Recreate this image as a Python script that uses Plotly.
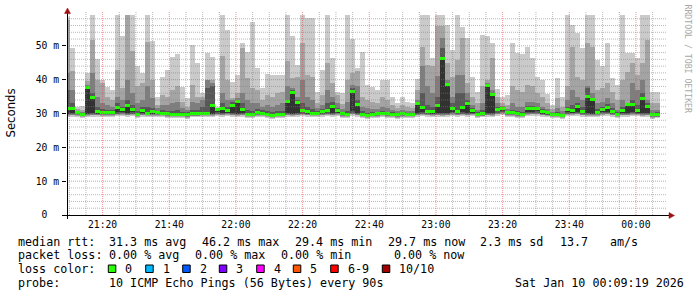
import plotly.graph_objects as go
import pandas as pd

# ---------------- data (milliseconds), one value per 90 s step ----------------
start_time = "2026-01-09 21:08:43"   # start of first (partly hidden) step
step_seconds = 90
x_start = "2026-01-09 21:09:19"
x_end = "2026-01-10 00:09:19"

median_ms = [31.5, 31.5, 30.3, 29.8, 37.8, 34.6, 30.5, 30.4, 30.4, 30.3,
             31.8, 31.1, 32.5, 31.1, 29.8, 30.8, 30.1, 30.5, 30.3, 30.1,
             29.9, 29.8, 29.8, 29.8, 29.6, 30.0, 30.0, 30.1, 30.1, 32.3,
             31.1, 31.5, 30.8, 32.5, 33.5, 31.3, 29.8, 29.8, 30.3, 30.1,
             29.8, 29.4, 29.8, 29.8, 33.5, 36.2, 33.2, 30.9, 30.5, 30.1,
             30.1, 30.6, 30.9, 32.2, 30.9, 29.9, 29.8, 36.5, 32.8, 29.8,
             29.4, 29.8, 29.9, 30.1, 29.9, 29.8, 29.6, 29.9, 29.8, 29.8,
             33.0, 31.7, 30.6, 30.5, 32.4, 46.2, 38.5, 31.5, 30.6, 31.7,
             33.0, 30.8, 29.8, 30.0, 38.2, 35.5, 31.3, 31.4, 30.3, 30.3,
             29.9, 29.8, 31.4, 31.5, 31.4, 30.5, 30.2, 29.8, 29.8, 29.4,
             31.1, 30.9, 32.0, 30.6, 35.0, 34.0, 30.3, 31.1, 31.7, 30.6,
             29.8, 30.8, 32.7, 32.7, 30.8, 34.3, 32.2, 29.6, 29.7]

ping10_ms = [58.5, 49.5, 32.0, 32.2, 41.9, 59.2, 46.0, 39.9, 37.8, 37.0,
             59.2, 52.9, 59.2, 59.2, 43.9, 42.1, 59.2, 51.3, 34.8, 40.7,
             42.9, 46.6, 47.6, 37.8, 34.5, 50.3, 44.9, 36.0, 48.0, 46.8,
             32.0, 59.2, 54.7, 39.4, 41.4, 50.8, 48.3, 56.9, 43.4, 37.5,
             41.7, 41.4, 41.4, 41.4, 59.2, 52.9, 44.4, 59.2, 58.2, 58.2,
             36.5, 42.9, 59.2, 46.3, 36.5, 36.0, 59.2, 52.0, 43.4, 48.3,
             38.5, 37.8, 37.0, 39.9, 39.9, 35.0, 33.0, 35.0, 33.5, 33.0,
             40.1, 59.2, 59.2, 46.3, 59.2, 59.2, 56.2, 48.8, 59.2, 55.7,
             52.3, 40.9, 36.4, 53.2, 52.9, 50.8, 37.2, 34.9, 35.5, 50.8,
             47.8, 47.5, 49.8, 46.3, 40.7, 39.9, 35.8, 32.5, 40.4, 35.0,
             59.2, 56.2, 53.9, 49.3, 59.2, 59.2, 45.8, 43.9, 50.8, 40.4,
             38.5, 59.2, 47.8, 47.8, 46.3, 59.2, 59.2, 36.5, 36.5]

ping9_ms = [57.5, 42.6, 31.2, 31.0, 39.5, 51.6, 39.9, 38.9, 35.0, 34.0,
            42.9, 37.5, 59.2, 48.6, 38.0, 38.9, 51.0, 40.0, 32.5, 35.5,
            35.0, 37.0, 38.0, 33.5, 32.0, 38.5, 35.0, 35.0, 40.0, 40.0,
            31.6, 47.0, 39.9, 34.5, 36.0, 49.3, 40.4, 37.5, 37.0, 34.0,
            35.5, 35.0, 36.0, 36.5, 45.4, 40.4, 40.9, 50.8, 41.4, 40.9,
            33.0, 35.5, 44.9, 38.9, 35.5, 32.8, 39.9, 42.0, 42.5, 35.0,
            34.0, 33.5, 33.0, 35.0, 34.0, 32.5, 31.5, 32.5, 31.8, 31.5,
            37.0, 49.8, 44.4, 43.9, 56.0, 55.8, 44.9, 40.9, 45.8, 52.3,
            38.9, 35.0, 33.0, 38.0, 39.9, 46.3, 35.0, 33.0, 32.5, 38.0,
            37.0, 36.5, 38.5, 38.0, 36.0, 35.0, 33.0, 31.2, 34.5, 32.0,
            38.0, 49.8, 40.9, 39.9, 50.8, 49.8, 37.0, 37.5, 38.9, 36.5,
            34.0, 39.9, 42.4, 44.9, 41.4, 44.9, 51.8, 33.0, 33.0]

ping8_ms = [42.0, 37.0, 30.8, 30.4, 38.5, 42.0, 35.0, 33.0, 32.5, 32.0,
            35.0, 34.0, 40.0, 36.0, 33.0, 34.0, 38.0, 34.5, 31.5, 32.5,
            32.5, 33.0, 33.5, 31.5, 31.0, 33.5, 33.0, 34.0, 39.9, 39.0,
            31.4, 36.0, 34.0, 34.0, 34.5, 36.0, 34.0, 33.0, 33.0, 32.0,
            32.5, 32.0, 32.5, 33.0, 38.0, 37.5, 35.0, 40.0, 35.0, 34.0,
            31.5, 32.5, 37.0, 35.0, 33.0, 31.2, 33.5, 38.5, 38.0, 32.0,
            31.5, 31.2, 31.3, 32.0, 31.5, 31.0, 30.6, 31.0, 30.7, 30.6,
            34.0, 43.9, 38.0, 36.0, 41.0, 52.3, 40.0, 35.0, 41.4, 41.4,
            36.0, 32.5, 31.0, 33.0, 39.0, 37.0, 33.0, 32.2, 31.3, 33.0,
            32.0, 32.0, 33.5, 33.5, 33.0, 32.0, 31.3, 30.5, 31.5, 30.6,
            34.0, 37.0, 35.0, 34.0, 38.0, 36.0, 33.0, 33.5, 34.5, 33.0,
            31.0, 34.0, 33.0, 38.9, 37.0, 39.9, 34.0, 31.0, 31.0]

ping7_ms = [37.0, 33.0, 30.5, 30.1, 38.2, 36.0, 32.0, 31.2, 31.0, 30.9,
            33.0, 32.0, 34.0, 32.5, 30.8, 31.8, 32.0, 31.5, 30.8, 30.9,
            30.7, 30.8, 30.9, 30.5, 30.3, 31.0, 31.0, 32.0, 37.5, 38.0,
            31.2, 33.0, 32.0, 33.5, 34.0, 33.0, 31.0, 30.8, 31.2, 30.9,
            30.6, 30.3, 30.6, 30.7, 34.0, 36.8, 34.0, 33.0, 32.0, 31.2,
            30.7, 31.3, 33.0, 33.5, 31.5, 30.4, 30.8, 37.5, 34.0, 30.6,
            30.2, 30.4, 30.5, 30.8, 30.5, 30.4, 30.1, 30.4, 30.2, 30.2,
            33.5, 36.0, 32.5, 32.0, 35.0, 49.3, 38.8, 33.0, 36.0, 36.0,
            34.0, 31.5, 30.4, 31.0, 38.5, 36.0, 32.0, 31.8, 30.8, 31.0,
            30.6, 30.5, 32.3, 32.3, 32.0, 31.2, 30.7, 30.2, 30.4, 30.0,
            32.0, 32.5, 33.0, 31.8, 37.5, 34.5, 31.2, 32.0, 32.8, 31.5,
            30.4, 31.8, 33.0, 34.0, 32.5, 36.0, 33.0, 30.2, 30.3]

ping5_ms = [30.0, 30.2, 30.0, 29.6, 30.0, 30.2, 30.1, 30.0, 30.1, 30.0,
            30.3, 30.4, 30.1, 30.3, 29.6, 30.2, 29.9, 30.1, 30.0, 29.9,
            29.7, 29.6, 29.6, 29.6, 29.4, 29.8, 29.8, 29.9, 29.9, 30.0,
            30.3, 30.2, 30.4, 30.1, 30.0, 30.2, 29.6, 29.6, 30.0, 29.9,
            29.6, 29.2, 29.6, 29.6, 30.1, 30.0, 30.2, 30.3, 30.1, 29.9,
            29.9, 30.2, 30.3, 30.2, 30.4, 29.7, 29.6, 30.6, 30.2, 29.6,
            29.2, 29.6, 29.7, 29.9, 29.7, 29.6, 29.4, 29.7, 29.6, 29.6,
            30.2, 30.3, 30.2, 30.1, 30.2, 30.1, 30.2, 30.4, 30.2, 30.3,
            30.2, 30.3, 29.6, 29.8, 30.2, 30.1, 30.6, 30.6, 30.0, 30.0,
            29.7, 29.6, 30.4, 30.5, 30.6, 30.1, 29.9, 29.6, 29.6, 29.2,
            30.3, 30.4, 30.5, 30.2, 30.1, 30.0, 30.0, 30.4, 30.5, 30.2,
            29.6, 30.2, 30.2, 30.4, 30.3, 30.1, 30.2, 29.4, 29.5]

ping4_ms = [29.8, 29.9, 29.8, 29.4, 29.8, 29.9, 29.9, 29.8, 29.8, 29.8,
            30.0, 30.1, 29.9, 30.0, 29.4, 29.9, 29.7, 29.8, 29.8, 29.7,
            29.5, 29.4, 29.4, 29.4, 29.2, 29.6, 29.6, 29.7, 29.7, 29.8,
            30.0, 29.9, 30.1, 29.9, 29.8, 29.9, 29.4, 29.4, 29.8, 29.7,
            29.4, 29.0, 29.4, 29.4, 29.9, 29.8, 29.9, 30.0, 29.9, 29.7,
            29.7, 29.9, 30.0, 29.9, 30.1, 29.5, 29.4, 30.2, 29.9, 29.4,
            29.0, 29.4, 29.5, 29.7, 29.5, 29.4, 29.2, 29.5, 29.4, 29.4,
            29.9, 30.0, 29.9, 29.8, 29.9, 29.8, 29.9, 30.1, 29.9, 30.0,
            29.9, 30.0, 29.4, 29.6, 29.9, 29.8, 30.2, 30.3, 29.8, 29.8,
            29.5, 29.4, 30.1, 30.2, 30.2, 29.9, 29.7, 29.4, 29.4, 29.0,
            30.0, 30.1, 30.2, 29.9, 29.8, 29.8, 29.8, 30.1, 30.2, 29.9,
            29.4, 29.9, 29.9, 30.1, 30.0, 29.8, 29.9, 29.2, 29.3]

ping3_ms = [29.6, 29.7, 29.6, 29.2, 29.6, 29.7, 29.7, 29.6, 29.6, 29.6,
            29.8, 29.9, 29.7, 29.8, 29.2, 29.7, 29.5, 29.6, 29.6, 29.5,
            29.3, 29.2, 29.2, 29.2, 29.0, 29.4, 29.4, 29.5, 29.5, 29.6,
            29.8, 29.7, 29.9, 29.7, 29.6, 29.7, 29.2, 29.2, 29.6, 29.5,
            29.2, 28.9, 29.2, 29.2, 29.7, 29.6, 29.7, 29.8, 29.7, 29.5,
            29.5, 29.7, 29.8, 29.7, 29.9, 29.3, 29.2, 30.0, 29.7, 29.2,
            28.9, 29.2, 29.3, 29.5, 29.3, 29.2, 29.0, 29.3, 29.2, 29.2,
            29.7, 29.8, 29.7, 29.6, 29.7, 29.6, 29.7, 29.9, 29.7, 29.8,
            29.7, 29.8, 29.2, 29.4, 29.7, 29.6, 30.0, 30.1, 29.6, 29.6,
            29.3, 29.2, 29.9, 30.0, 30.0, 29.7, 29.5, 29.2, 29.2, 28.9,
            29.8, 29.9, 30.0, 29.7, 29.6, 29.6, 29.6, 29.9, 30.0, 29.7,
            29.2, 29.7, 29.7, 29.9, 29.8, 29.6, 29.7, 29.0, 29.1]

ping2_ms = [29.4, 29.5, 29.4, 29.0, 29.4, 29.5, 29.5, 29.4, 29.4, 29.4,
            29.6, 29.7, 29.5, 29.6, 29.0, 29.5, 29.3, 29.4, 29.4, 29.3,
            29.1, 29.0, 29.0, 29.0, 28.8, 29.2, 29.2, 29.3, 29.3, 29.4,
            29.6, 29.5, 29.7, 29.5, 29.4, 29.5, 29.0, 29.0, 29.4, 29.3,
            29.0, 28.7, 29.0, 29.0, 29.5, 29.4, 29.5, 29.6, 29.5, 29.3,
            29.3, 29.5, 29.6, 29.5, 29.7, 29.1, 29.0, 29.8, 29.5, 29.0,
            28.7, 29.0, 29.1, 29.3, 29.1, 29.0, 28.8, 29.1, 29.0, 29.0,
            29.5, 29.6, 29.5, 29.4, 29.5, 29.4, 29.5, 29.7, 29.5, 29.6,
            29.5, 29.6, 29.0, 29.2, 29.5, 29.4, 29.8, 29.9, 29.4, 29.4,
            29.1, 29.0, 29.7, 29.8, 29.8, 29.5, 29.3, 29.0, 29.0, 28.7,
            29.6, 29.7, 29.8, 29.5, 29.4, 29.4, 29.4, 29.7, 29.8, 29.5,
            29.0, 29.5, 29.5, 29.7, 29.6, 29.4, 29.5, 28.8, 28.9]

ping1_ms = [29.0, 29.1, 29.0, 28.7, 29.0, 29.1, 29.1, 29.0, 29.0, 29.1,
            29.2, 29.3, 29.1, 29.2, 28.7, 29.1, 28.9, 29.0, 29.1, 29.0,
            28.8, 28.7, 28.7, 28.7, 28.5, 28.9, 28.9, 29.0, 29.0, 29.1,
            29.2, 29.1, 29.3, 29.1, 29.0, 29.1, 28.7, 28.7, 29.0, 29.0,
            28.7, 28.4, 28.7, 28.7, 29.1, 29.0, 29.1, 29.2, 29.1, 29.0,
            29.0, 29.1, 29.2, 29.1, 29.3, 28.8, 28.7, 29.4, 29.1, 28.7,
            28.4, 28.7, 28.8, 29.0, 28.8, 28.7, 28.5, 28.8, 28.7, 28.7,
            29.1, 29.2, 29.1, 29.0, 29.1, 29.0, 29.1, 29.3, 29.1, 29.2,
            29.1, 29.2, 28.7, 28.9, 29.1, 29.0, 29.4, 29.5, 29.0, 29.0,
            28.8, 28.7, 29.3, 29.4, 29.4, 29.1, 29.0, 28.7, 28.7, 28.4,
            29.2, 29.3, 29.4, 29.1, 29.0, 29.0, 29.0, 29.3, 29.4, 29.1,
            28.7, 29.1, 29.1, 29.3, 29.2, 29.0, 29.1, 28.5, 28.6]

y_tick_values = [0, 0.01, 0.02, 0.03, 0.04, 0.05]
y_tick_labels = ["0\u00a0\u00a0", "10 m", "20 m", "30 m", "40 m", "50 m"]

legend_rows = [
    [("median rtt:", 16), ("31.3 ms avg", 107), ("46.2 ms max", 200), ("29.4 ms min", 293),
     ("29.7 ms now", 385.5), ("2.3 ms sd", 478), ("13.7", 558), ("am/s", 607.5)],
    [("packet loss:", 16), ("0.00 % avg", 107), ("0.00 % max", 193.3), ("0.00 % min", 279.3),
     ("0.00 % now", 392)],
    [("loss color:", 16)],
    [("probe:", 16), ("10 ICMP Echo Pings (56 Bytes) every 90s", 107),
     ("Sat Jan 10 00:09:19 2026", 513.3)],
]
loss_labels = ["0", "1", "2", "3", "4", "5", "6-9", "10/10"]
loss_colors = ["#26ff00", "#00b8ff", "#0059ff", "#7e00ff", "#ff00ff", "#ff5500", "#ff0000", "#a00000"]
loss_box_x = [108.3, 145.7, 182.7, 219.3, 256.7, 293.3, 330.7, 382.3]

# ---------------- figure ----------------
W, H = 697, 297
L, R, T, B = 67, 30, 12, 82
PW, PH = W - L - R, H - T - B


def px(x):
    return (x - L) / PW


def py(y):
    return (T + PH - y) / PH


t0 = pd.Timestamp(start_time)
n = len(median_ms)
xs = [(t0 + pd.Timedelta(seconds=step_seconds * i + step_seconds / 2)).strftime("%Y-%m-%d %H:%M:%S")
      for i in range(n)]

fig = go.Figure()
layers = [(ping1_ms, ping10_ms, "#cacaca"), (ping2_ms, ping9_ms, "#a4a4a4"),
          (ping3_ms, ping8_ms, "#7e7e7e"), (ping4_ms, ping7_ms, "#585858"),
          (ping5_ms, median_ms, "#323232")]
for lo, hi, col in layers:
    fig.add_trace(go.Bar(
        x=xs, base=[v / 1000 for v in lo], y=[(h - l) / 1000 for l, h in zip(lo, hi)],
        width=step_seconds * 1000, marker=dict(color=col, line=dict(width=0)),
        hoverinfo="skip", showlegend=False))

band = 0.00044
fig.add_trace(go.Bar(
    x=xs, base=[m / 1000 - band for m in median_ms], y=[2 * band] * n,
    width=step_seconds * 1000, marker=dict(color=loss_colors[0], line=dict(width=0)),
    hoverinfo="skip", showlegend=False))

shapes = []
# grid on top of the data (dotted)
minor_c = "rgba(128,128,128,0.55)"
major_c = "rgba(222,79,79,0.6)"
for t in pd.date_range("2026-01-09 21:10:00", "2026-01-10 00:05:00", freq="5min"):
    major = (t.minute % 20 == 0)
    shapes.append(dict(type="line", xref="x", yref="y", x0=t, x1=t, y0=0, y1=0.06,
                       line=dict(color=major_c if major else minor_c, width=1, dash="1px,1px"),
                       layer="above"))
for i in range(1, 30):
    v = i * 0.002
    major = (i % 5 == 0)
    shapes.append(dict(type="line", xref="paper", yref="y", x0=0, x1=1, y0=v, y1=v,
                       line=dict(color=major_c if major else minor_c, width=1, dash="1px,1px"),
                       layer="above"))
# axes lines with arrows
shapes.append(dict(type="line", xref="paper", yref="paper", x0=px(62), x1=px(670), y0=py(215.5), y1=py(215.5),
                   line=dict(color="#000000", width=1), layer="above"))
shapes.append(dict(type="line", xref="paper", yref="paper", x0=px(67.5), x1=px(67.5), y0=py(219), y1=py(12),
                   line=dict(color="#000000", width=1), layer="above"))
shapes.append(dict(type="path", xref="paper", yref="paper",
                   path=f"M {px(64.5)} {py(13.5)} L {px(70.5)} {py(13.5)} L {px(67.5)} {py(8)} Z",
                   fillcolor="#a01010", line=dict(color="#a01010", width=0.5), layer="above"))
shapes.append(dict(type="path", xref="paper", yref="paper",
                   path=f"M {px(669)} {py(212.5)} L {px(669)} {py(218.5)} L {px(674.5)} {py(215.5)} Z",
                   fillcolor="#a01010", line=dict(color="#a01010", width=0.5), layer="above"))
# loss colour boxes
for bx, bc in zip(loss_box_x, loss_colors):
    shapes.append(dict(type="rect", xref="paper", yref="paper", x0=px(bx), x1=px(bx + 7.5),
                       y0=py(272.5), y1=py(265), fillcolor=bc, line=dict(color="#000000", width=1)))

mono = "DejaVu Sans Mono"
ann = []
row_y = [241.5, 255.3, 269, 283]
for row, yy in zip(legend_rows, row_y):
    for txt, xx in row:
        ann.append(dict(text=txt, x=px(xx), y=py(yy), xref="paper", yref="paper",
                        xanchor="left", yanchor="middle", showarrow=False,
                        font=dict(family=mono, size=11.7, color="#000000")))
for lab, bx in zip(loss_labels, loss_box_x):
    ann.append(dict(text=lab, x=px(bx + 15), y=py(269), xref="paper", yref="paper",
                    xanchor="left", yanchor="middle", showarrow=False,
                    font=dict(family=mono, size=11.7, color="#000000")))
ann.append(dict(text="Seconds", x=px(10), y=py(113.5), xref="paper", yref="paper",
                xanchor="center", yanchor="middle", textangle=-90, showarrow=False,
                font=dict(family="DejaVu Sans", size=11.7, color="#000000")))
ann.append(dict(text="RRDTOOL / TOBI OETIKER", x=px(687.5), y=py(59), xref="paper", yref="paper",
                xanchor="center", yanchor="middle", textangle=90, showarrow=False,
                font=dict(family=mono, size=8.2, color="#a8a8a8")))

fig.update_layout(
    width=W, height=H, margin=dict(l=L, r=R, t=T, b=B),
    paper_bgcolor="white", plot_bgcolor="white",
    barmode="overlay", bargap=0, showlegend=False, hovermode=False,
    shapes=shapes, annotations=ann,
    xaxis=dict(type="date", range=[x_start, x_end], tickformat="%H:%M",
               tick0="2026-01-09 21:00:00", dtick=1200000,
               showgrid=False, zeroline=False, showline=False, ticks="",
               ticklabelstandoff=2,
               tickfont=dict(family=mono, size=9.7, color="#000000")),
    yaxis=dict(range=[0, 0.06], tickvals=y_tick_values, ticktext=y_tick_labels,
               showgrid=False, zeroline=False, showline=False,
               ticks="outside", ticklen=4, tickcolor="#000000", tickwidth=1,
               ticklabelstandoff=1,
               tickfont=dict(family=mono, size=9.7, color="#000000")),
)

fig.write_html("out.html")
